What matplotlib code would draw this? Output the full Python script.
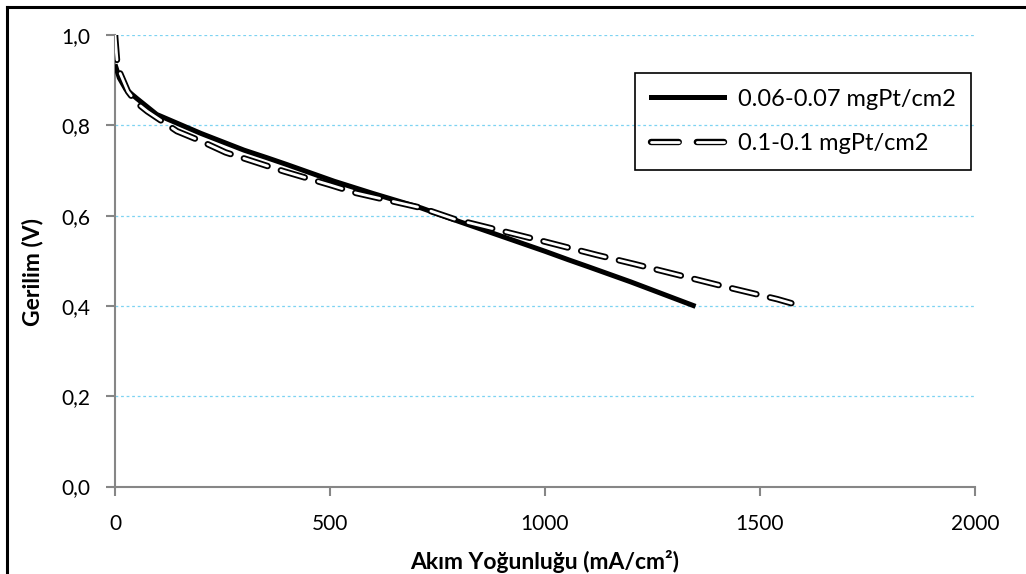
import matplotlib
matplotlib.use('Agg')
import matplotlib.pyplot as plt
from matplotlib.ticker import FuncFormatter
from matplotlib.lines import Line2D

plt.rcParams['font.family'] = ['Lato', 'DejaVu Sans']
plt.rcParams['lines.scale_dashes'] = False

# akim yogunlugu (mA/cm2) ve gerilim (V)
x_a = [0, 10, 25, 50, 97, 200, 300, 354, 400, 510, 600, 712, 800, 900, 1000, 1055,
       1100, 1200, 1300, 1350]
y_a = [0.935, 0.905, 0.88, 0.86, 0.824, 0.782, 0.745, 0.728, 0.713, 0.676, 0.649,
       0.617, 0.587, 0.554, 0.521, 0.502, 0.487, 0.453, 0.417, 0.399]

x_b = [0, 5, 12, 30, 50, 75, 144, 200, 257, 393, 500, 561, 713, 790, 913, 997, 1120,
       1207, 1329, 1417, 1540, 1573]
y_b = [1.0, 0.94, 0.915, 0.875, 0.85, 0.831, 0.787, 0.765, 0.740, 0.698, 0.668, 0.650,
       0.617, 0.592, 0.563, 0.543, 0.513, 0.493, 0.464, 0.443, 0.415, 0.406]

label_a = '0.06-0.07 mgPt/cm2'
label_b = '0.1-0.1 mgPt/cm2'

fig = plt.figure(figsize=(10.26, 5.74), dpi=100)
ax = fig.add_axes([0.1121, 0.1524, 0.8382, 0.7866])

grid_c = '#7dd3f2'
for gy in [0.2, 0.4, 0.6, 0.8, 1.0]:
    ax.axhline(gy, color=grid_c, lw=0.9, dashes=(2, 2), zorder=1)

ax.plot(x_a, y_a, color='black', lw=3.6, solid_capstyle='butt', zorder=3)

dash = (18, 10)
ax.plot(x_b, y_b, color='black', lw=4.6, dashes=dash, dash_capstyle='round', zorder=4)
ax.plot(x_b, y_b, color='white', lw=2.0, dashes=dash, dash_capstyle='round', zorder=5)

ax.set_xlim(0, 2000)
ax.set_ylim(0, 1.0)
ax.set_xticks([0, 500, 1000, 1500, 2000])
ax.set_yticks([0, 0.2, 0.4, 0.6, 0.8, 1.0])
ax.yaxis.set_major_formatter(FuncFormatter(lambda v, p: f'{v:.1f}'.replace('.', ',')))

for s in ['top', 'right']:
    ax.spines[s].set_visible(False)
for s in ['left', 'bottom']:
    ax.spines[s].set_color('#868686')
    ax.spines[s].set_linewidth(1.5)
ax.tick_params(axis='both', colors='#868686', length=6.5, width=1.5, labelcolor='black',
               labelsize=15)
ax.tick_params(axis='y', pad=11)
ax.tick_params(axis='x', pad=13)

ax.set_xlabel('Akım Yoğunluğu (mA/cm²)', fontsize=16.5, fontweight='bold')
ax.set_ylabel('Gerilim (V)', fontsize=16.5, fontweight='bold')
ax.xaxis.set_label_coords(0.5, -0.14)
ax.yaxis.set_label_coords(-0.083, 0.475)

leg_dash = (20, 13)
h_a = Line2D([], [], color='black', lw=3.6)
h_b1 = Line2D([], [], color='black', lw=4.6, dashes=leg_dash, dash_capstyle='round')
h_b2 = Line2D([], [], color='white', lw=2.0, dashes=leg_dash, dash_capstyle='round')
leg = ax.legend([h_a, (h_b1, h_b2)], [label_a, label_b], loc='upper left',
                bbox_to_anchor=(0.605, 0.915), fontsize=17, frameon=True,
                fancybox=False, facecolor='none', edgecolor='black', handlelength=3.1,
                borderpad=0.65, borderaxespad=0, labelspacing=1.0, handletextpad=0.6)
leg.get_frame().set_linewidth(1.2)
leg.get_frame().set_alpha(None)

# cerceve
fig.add_artist(Line2D([7 / 1026, 7 / 1026], [0, 1 - 7 / 574], transform=fig.transFigure,
                      color='black', lw=2.2))
fig.add_artist(Line2D([7 / 1026, 1], [1 - 7 / 574, 1 - 7 / 574], transform=fig.transFigure,
                      color='black', lw=2.2))

fig.savefig('out.png', dpi=100)
